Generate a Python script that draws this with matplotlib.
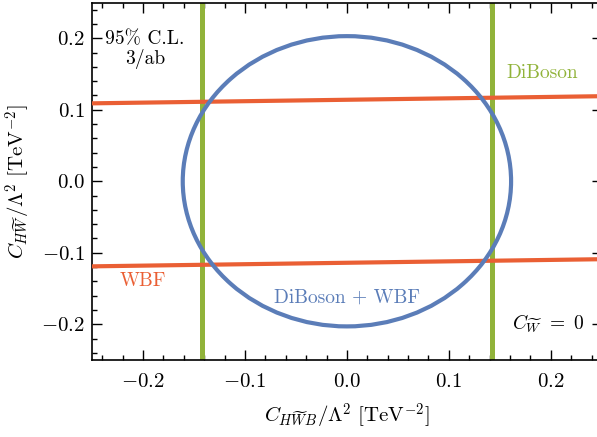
import numpy as np
import matplotlib
matplotlib.use("Agg")
import matplotlib.pyplot as plt
from matplotlib.patches import Ellipse
from matplotlib.ticker import MultipleLocator, FormatStrFormatter

plt.rcParams["font.family"] = "serif"
plt.rcParams["font.serif"] = ["cmr10", "DejaVu Serif"]
plt.rcParams["mathtext.fontset"] = "cm"
plt.rcParams["axes.formatter.use_mathtext"] = True

# limits
diboson_x = [-0.142, 0.142]                 # vertical DiBoson bounds
wbf_x = [-0.25, 0.25]
wbf_upper = [0.109, 0.119]
wbf_lower = [-0.119, -0.109]
combined_center = (0.0, 0.0)
combined_halfwidth = 0.161
combined_halfheight = 0.203

BLUE = "#5B7DB8"
ORANGE = "#EA5F34"
GREEN = "#91B33A"

fig = plt.figure(figsize=(5.97, 4.37), dpi=100)
ax = fig.add_axes([0.1541, 0.1762, 0.854, 0.818])

for xv in diboson_x:
    ax.axvline(xv, color=GREEN, lw=3.6, zorder=2)
ax.plot(wbf_x, wbf_upper, color=ORANGE, lw=3.0, zorder=3)
ax.plot(wbf_x, wbf_lower, color=ORANGE, lw=3.0, zorder=3)
ax.add_patch(Ellipse(combined_center, 2 * combined_halfwidth, 2 * combined_halfheight,
                     fill=False, ec=BLUE, lw=3.0, zorder=4))

ax.set_xlim(-0.25, 0.25)
ax.set_ylim(-0.25, 0.25)
ax.xaxis.set_major_locator(MultipleLocator(0.1))
ax.yaxis.set_major_locator(MultipleLocator(0.1))
ax.xaxis.set_minor_locator(MultipleLocator(0.02))
ax.yaxis.set_minor_locator(MultipleLocator(0.02))
ax.xaxis.set_major_formatter(FormatStrFormatter("$%.1f$"))
ax.yaxis.set_major_formatter(FormatStrFormatter("$%.1f$"))
ax.tick_params(which="both", direction="in", top=True, right=True, labelsize=15)
ax.tick_params(which="major", length=7, width=1.0)
ax.tick_params(which="minor", length=3.5, width=1.0)
ax.tick_params(axis="x", which="major", pad=9)
ax.tick_params(axis="y", which="major", pad=5)
for s in ax.spines.values():
    s.set_linewidth(1.2)

ax.set_xlabel(r"$C_{H\widetilde{W}B}/\Lambda^2\ [\mathrm{TeV}^{-2}]$", fontsize=15, labelpad=8)
ax.set_ylabel(r"$C_{H\widetilde{W}}/\Lambda^2\ [\mathrm{TeV}^{-2}]$", fontsize=15, labelpad=6)

ax.text(-0.198, 0.184, "95% C.L.\n3/ab", ha="center", va="center", fontsize=14,
        linespacing=1.1)
ax.text(0.156, 0.152, "DiBoson", color=GREEN, ha="left", va="center", fontsize=14)
ax.text(-0.223, -0.14, "WBF", color=ORANGE, ha="left", va="center", fontsize=14)
ax.text(0.0, -0.163, "DiBoson + WBF", color=BLUE, ha="center", va="center", fontsize=14)
ax.text(0.233, -0.199, r"$C_{\widetilde{W}}\ =\ 0$", ha="right", va="center", fontsize=14)

fig.savefig("out.png", dpi=100)
